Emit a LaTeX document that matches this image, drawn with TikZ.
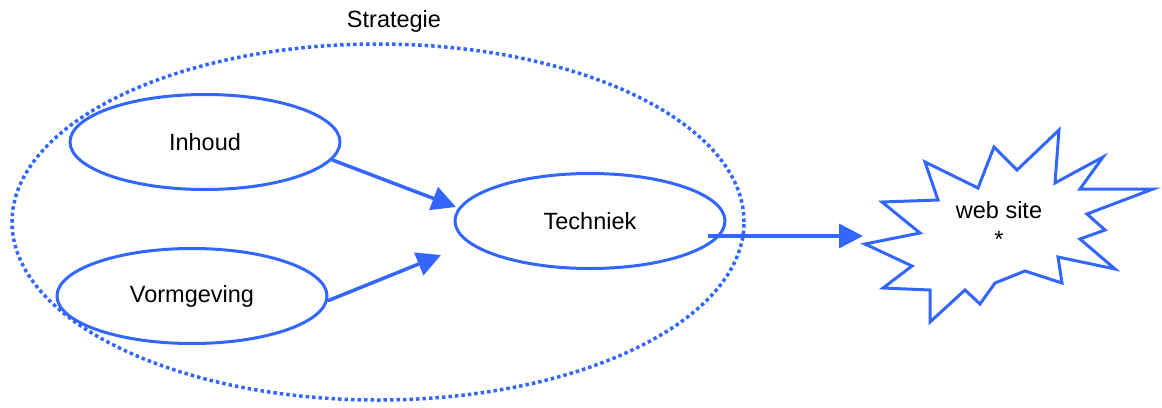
\documentclass[tikz,border=0pt]{standalone}
\usepackage{fontspec}
\setmainfont{Liberation Sans}
\usetikzlibrary{shapes.geometric,arrows.meta}
\definecolor{bl}{RGB}{51,102,255}
\begin{document}
\begin{tikzpicture}[x=1pt,y=-1pt,
  lbl/.style={font=\fontsize{23.5}{27}\selectfont, text=black},
  oval/.style={ellipse, draw=bl, line width=3pt, minimum width=270pt, minimum height=95pt, inner sep=0pt, lbl},
  conn/.style={draw=bl, line width=3.5pt, -{Triangle[length=24pt,width=24pt]}}]
\useasboundingbox (0,0) rectangle (1162,407);
% strategy
\draw[bl, line width=3.5pt, dash pattern=on 3.5pt off 3pt] (378,222) ellipse [x radius=366pt, y radius=178pt];
\node[lbl] (strat) at (394,21) {Strategie};
\node[oval] (inhoud) at (205,142) {Inhoud};
\node[oval] (vorm) at (192,296) {Vormgeving};
\node[oval] (tech) at (590,221) {Techniek};
% starburst
\draw[bl, line width=3pt, line join=miter, fill=white] (865,244) -- (912,266) -- (883,288) -- (930,290) -- (930,322) -- (965,290) -- (980,304) -- (995,283) -- (1025,271) -- (1062,283) -- (1058,257) -- (1115,269) -- (1080,239) -- (1105,230) -- (1087,214) -- (1153,189) -- (1080,189) -- (1103,157) -- (1055,183) -- (1059,130) -- (1017,170) -- (994,147) -- (978,188) -- (925,162) -- (938,200) -- (882,202) -- (920,233) -- cycle;
\node[lbl, align=center, inner sep=0pt] (web) at (999,224) {web site\\[2pt]*};
% connectors
\coordinate (t1) at (456,207);
\coordinate (t2) at (441,255);
\coordinate (s3) at (708,236);
\coordinate (t3) at (863,236);
\path[conn] (inhoud.-8) -- (t1);
\path[conn] (vorm.-2) -- (t2);
\path[conn] (s3) -- (t3);
\end{tikzpicture}
\end{document}
